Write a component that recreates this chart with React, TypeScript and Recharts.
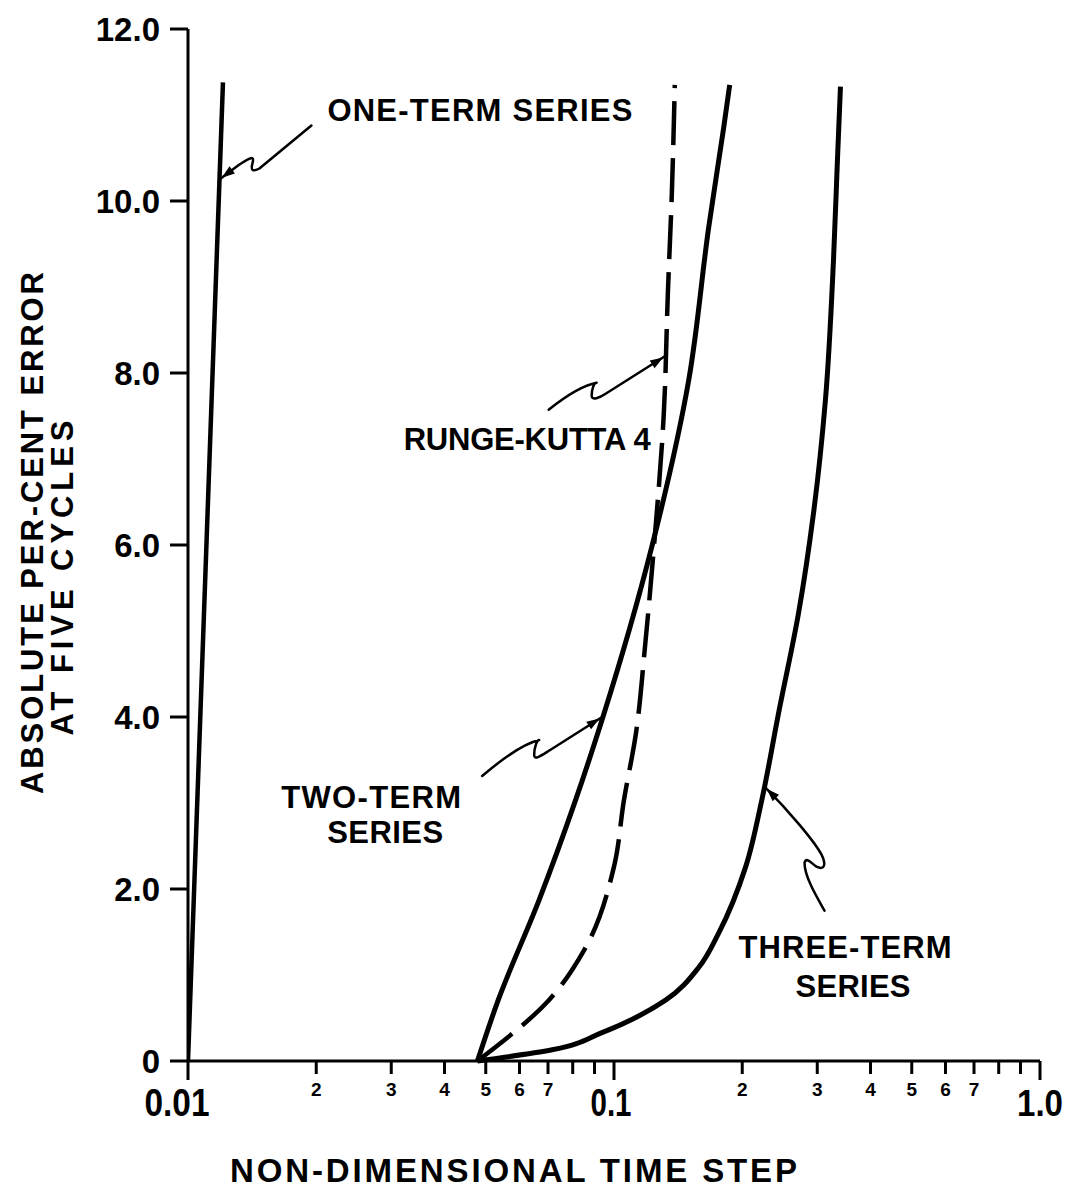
import React from 'react'
import { LineChart, Line, XAxis, YAxis, ReferenceDot, Customized } from 'recharts'

// x: non-dimensional time step (log), y: absolute per-cent error at five cycles
const oneTermX = [0.01, 0.01208]
const oneTermY = [0, 11.38]

const twoTermX = [0.0478, 0.0535, 0.0668, 0.0812, 0.0942, 0.1227, 0.1498, 0.1669, 0.181, 0.1869]
const twoTermY = [0, 0.71, 1.88, 3.03, 4.0, 5.98, 7.92, 9.7, 10.86, 11.35]

const rk4X = [0.0478, 0.0704, 0.0851, 0.1, 0.1055, 0.1126, 0.1182, 0.1241, 0.1309, 0.1338, 0.1367, 0.1389]
const rk4Y = [0, 0.71, 1.29, 2.26, 3.03, 3.81, 4.81, 5.98, 7.53, 8.93, 10.09, 11.35]

const threeTermX = [0.0478, 0.0716, 0.0937, 0.1324, 0.1582, 0.1762, 0.2038, 0.2222, 0.2435, 0.2712, 0.294, 0.3136, 0.3275, 0.3346, 0.3401]
const threeTermY = [0, 0.13, 0.33, 0.71, 1.09, 1.49, 2.26, 3.03, 4.05, 5.21, 6.37, 7.69, 9.31, 10.48, 11.33]

const xTicks = [0.01, 0.02, 0.03, 0.04, 0.05, 0.06, 0.07, 0.08, 0.09, 0.1, 0.2, 0.3, 0.4, 0.5, 0.6, 0.7, 0.8, 0.9, 1]
const xTickLabels = ['0.01', '2', '3', '4', '5', '6', '7', '', '', '0.1', '2', '3', '4', '5', '6', '7', '', '', '1.0']
const yTicks = [0, 2, 4, 6, 8, 10, 12]
const yTickLabels = ['0', '2.0', '4.0', '6.0', '8.0', '10.0', '12.0']

// where each pointer touches its curve
const noteX = [0.01185, 0.1322, 0.0938, 0.2256]
const noteY = [10.25, 8.2, 4.0, 3.19]
const noteText = [['ONE-TERM SERIES'], ['RUNGE-KUTTA 4'], ['TWO-TERM', 'SERIES'], ['THREE-TERM', 'SERIES']]

const pts = (xs: number[], ys: number[]) => xs.map((x, i) => ({ x, y: ys[i] }))

const FONT = '"Liberation Sans", Arial, sans-serif'
const INK = '#000'

// pointer look, relative to the touch point
const noteStyle = [
  {
    path: 'M0,0 L20,-15 C28,-20 36,-26 33,-16 C31,-8 34,-8 40,-11 L92,-54',
    head: [20, -15],
    lines: [{ x: 108, y: -59, w: 305 }],
  },
  {
    path: 'M0,0 L-60,38 C-66,42 -74,45 -74,40 C-74,34 -72,27 -69,27 C-85,30 -102,42 -117,54',
    head: [-60, 38],
    lines: [{ x: -262, y: 94, w: 247 }],
  },
  {
    path: 'M0,0 L-52,33 C-60,38 -68,44 -68,38 C-68,30 -65,23 -63,23 C-80,27 -100,42 -120,59',
    head: [-52, 33],
    lines: [{ x: -321, y: 91, w: 180 }, { x: -275, y: 126, w: 116 }],
  },
  {
    path: 'M0,0 C25,25 50,55 57,68 C62,78 60,84 52,80 C46,76 42,70 40,76 C40,90 52,110 60,124',
    head: [25, 25],
    lines: [{ x: -26, y: 171, w: 213 }, { x: 31, y: 210, w: 115 }],
  },
]

const Pointer = ({ cx, cy, idx }: any) => {
  const s = noteStyle[idx]
  const [dx, dy] = s.head
  const len = Math.hypot(dx, dy)
  const ux = dx / len, uy = dy / len
  const px = -uy, py = ux
  const a = 3, b = 16, w = 4.5
  const tri = `${ux * a},${uy * a} ${ux * b + px * w},${uy * b + py * w} ${ux * b - px * w},${uy * b - py * w}`
  return (
    <g transform={`translate(${cx},${cy})`}>
      <path d={s.path} fill="none" stroke={INK} strokeWidth={2.5} strokeLinecap="round" strokeLinejoin="round" />
      <polygon points={tri} fill={INK} />
      {s.lines.map((l, i) => (
        <text key={i} x={l.x} y={l.y} textLength={l.w} lengthAdjust="spacing"
          fontFamily={FONT} fontWeight="bold" fontSize={31} fill={INK}>
          {noteText[idx][i]}
        </text>
      ))}
    </g>
  )
}

// nudge / width / size of the three big x labels
const majorLook: Record<string, { dx: number; w: number; fs: number }> = {
  '0.01': { dx: -11, w: 65, fs: 38 },
  '0.1': { dx: -3, w: 41, fs: 38 },
  '1.0': { dx: 0, w: 46, fs: 36 },
}

const XTick = ({ x, y, payload }: any) => {
  const i = xTicks.indexOf(payload.value)
  const label = xTickLabels[i]
  const major = majorLook[label]
  return (
    <g>
      <line x1={x} x2={x} y1={y} y2={y + (major ? 19 : 13)} stroke={INK} strokeWidth={3} />
      {major ? (
        <text x={x + major.dx} y={y + 55} textAnchor="middle" textLength={major.w}
          lengthAdjust="spacingAndGlyphs" fontFamily={FONT} fontWeight="bold"
          fontSize={major.fs} fill={INK}>{label}</text>
      ) : label ? (
        <text x={x} y={y + 35} textAnchor="middle" fontFamily={FONT} fontWeight="bold"
          fontSize={19} fill={INK}>{label}</text>
      ) : null}
    </g>
  )
}

const YTick = ({ x, y, payload }: any) => {
  const label = yTickLabels[yTicks.indexOf(payload.value)]
  return (
    <g>
      <line x1={x - 18} x2={x} y1={y} y2={y} stroke={INK} strokeWidth={3} />
      <text x={x - 28} y={y + 12} textAnchor="end" fontFamily={FONT} fontWeight="bold"
        fontSize={33} fill={INK}>{label}</text>
    </g>
  )
}

const Titles = () => (
  <g fontFamily={FONT} fontWeight="bold" fill={INK}>
    <text x={230} y={1182} textLength={567} lengthAdjust="spacing" fontSize={33}>
      NON-DIMENSIONAL TIME STEP
    </text>
    <text x={43} y={533} transform="rotate(-90 43 533)" textAnchor="middle" textLength={522}
      lengthAdjust="spacing" fontSize={31}>
      ABSOLUTE PER-CENT ERROR
    </text>
    <text x={73} y={578} transform="rotate(-90 73 578)" textAnchor="middle" textLength={315}
      lengthAdjust="spacing" fontSize={31}>
      AT FIVE CYCLES
    </text>
  </g>
)

export default function App() {
  const lineProps = {
    dataKey: 'y',
    dot: false,
    activeDot: false,
    stroke: INK,
    isAnimationActive: false,
  } as const
  return (
    <div style={{ position: 'absolute', left: 0, top: 0, background: '#fff', width: 1071, height: 1188 }}>
      <LineChart width={1071} height={1188} margin={{ top: 29, right: 31, left: 0, bottom: 0 }}>
        <XAxis
          dataKey="x"
          type="number"
          scale="log"
          domain={[0.01, 1]}
          allowDataOverflow
          ticks={xTicks}
          interval={0}
          height={127}
          tickSize={0}
          tickMargin={0}
          tickLine={false}
          tick={<XTick />}
          axisLine={{ stroke: INK, strokeWidth: 3 }}
        />
        <YAxis
          type="number"
          domain={[0, 12]}
          ticks={yTicks}
          interval={0}
          width={188}
          tickSize={0}
          tickMargin={0}
          tickLine={false}
          tick={<YTick />}
          axisLine={{ stroke: INK, strokeWidth: 3 }}
        />
        <Line {...lineProps} data={pts(oneTermX, oneTermY)} type="linear" strokeWidth={4.5} />
        <Line {...lineProps} data={pts(twoTermX, twoTermY)} type="monotoneY" strokeWidth={5} />
        <Line {...lineProps} data={pts(rk4X, rk4Y)} type="monotoneY" strokeWidth={4.5} strokeDasharray="44 13" />
        <Line {...lineProps} data={pts(threeTermX, threeTermY)} type="monotoneY" strokeWidth={5} />
        {noteX.map((nx, i) => (
          <ReferenceDot key={i} x={nx} y={noteY[i]} r={0} shape={(p: any) => <Pointer {...p} idx={i} />} />
        ))}
        <Customized component={Titles} />
      </LineChart>
    </div>
  )
}
